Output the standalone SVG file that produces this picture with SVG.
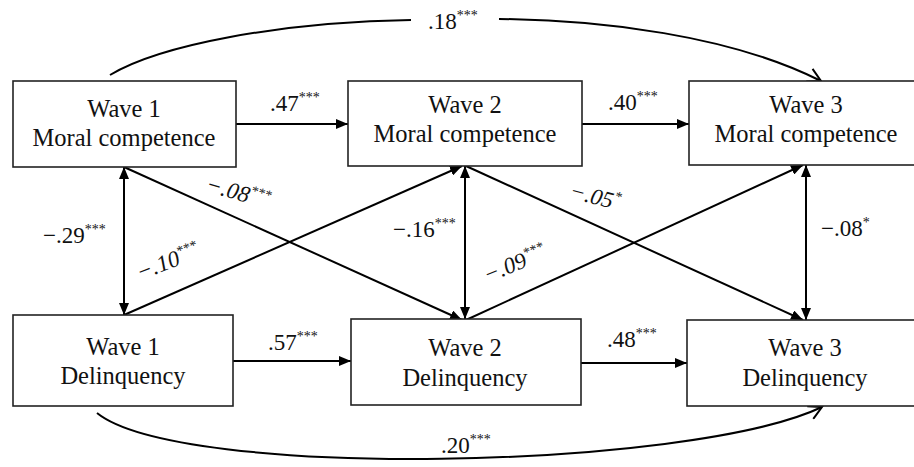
<svg xmlns="http://www.w3.org/2000/svg" width="914" height="467" viewBox="0 0 914 467">
<style>
.box{fill:#fff;stroke:#222;stroke-width:1.6}
.ln{fill:none;stroke:#000;stroke-width:2}
</style>
<defs>
<marker id="ah" markerUnits="userSpaceOnUse" markerWidth="12" markerHeight="10" refX="12" refY="5" orient="auto-start-reverse" viewBox="0 0 12 10">
<path d="M0,0 L12,5 L0,10 z" fill="#000"/>
</marker>
<marker id="oh" markerUnits="userSpaceOnUse" markerWidth="16" markerHeight="16" refX="14" refY="8" orient="auto" viewBox="0 0 16 16">
<path d="M1,1 L14,8 L1,15" fill="none" stroke="#000" stroke-width="2"/>
</marker>
</defs>

<g id="connectors">
<line class="ln" x1="236" y1="124" x2="348" y2="124" marker-end="url(#ah)"/>
<line class="ln" x1="582" y1="124" x2="689" y2="124" marker-end="url(#ah)"/>
<line class="ln" x1="233" y1="361" x2="351" y2="361" marker-end="url(#ah)"/>
<line class="ln" x1="581" y1="363" x2="687" y2="363" marker-end="url(#ah)"/>
<line class="ln" x1="124" y1="167" x2="124" y2="315" marker-start="url(#ah)" marker-end="url(#ah)"/>
<line class="ln" x1="465" y1="166" x2="465" y2="319" marker-start="url(#ah)" marker-end="url(#ah)"/>
<line class="ln" x1="806" y1="165" x2="806" y2="320" marker-start="url(#ah)" marker-end="url(#ah)"/>
<line class="ln" x1="124" y1="167" x2="462" y2="320" marker-end="url(#ah)"/>
<line class="ln" x1="124" y1="315" x2="462" y2="166" marker-end="url(#ah)"/>
<line class="ln" x1="466" y1="166" x2="803" y2="320" marker-end="url(#ah)"/>
<line class="ln" x1="466" y1="320" x2="803" y2="165" marker-end="url(#ah)"/>
<path class="ln" d="M110,75 C160,45 280,22 411,20"/>
<path class="ln" d="M499,19 C600,20 730,35 821,81" marker-end="url(#oh)"/>
<path class="ln" d="M97,413 C180,480 690,470 822,407" marker-end="url(#oh)"/>

<g style="font-family:'Liberation Serif',serif" font-size="23" fill="#111">
<text x="428" y="29">.18<tspan font-size="14" dy="-9">***</tspan></text>
<text x="270" y="111">.47<tspan font-size="14" dy="-9">***</tspan></text>
<text x="608" y="110">.40<tspan font-size="14" dy="-9">***</tspan></text>
<text x="268" y="350">.57<tspan font-size="14" dy="-9">***</tspan></text>
<text x="607" y="347">.48<tspan font-size="14" dy="-9">***</tspan></text>
<text x="441" y="453">.20<tspan font-size="14" dy="-9">***</tspan></text>
<text x="43" y="243">−.29<tspan font-size="14" dy="-9">***</tspan></text>
<text x="393" y="237">−.16<tspan font-size="14" dy="-9">***</tspan></text>
<text x="821" y="236">−.08<tspan font-size="14" dy="-9">*</tspan></text>
<g font-style="italic" text-anchor="middle">
<text transform="translate(238,193) rotate(16)" x="0" y="7">−.08<tspan font-size="14" dy="-9">***</tspan></text>
<text transform="translate(168,262) rotate(-21)" x="0" y="7">−.10<tspan font-size="14" dy="-9">***</tspan></text>
<text transform="translate(595,197) rotate(15)" x="0" y="7">−.05<tspan font-size="14" dy="-9">*</tspan></text>
<text transform="translate(515,264) rotate(-22)" x="0" y="7">−.09<tspan font-size="14" dy="-9">***</tspan></text>
</g>
</g>
</g>

<g style="font-family:'Liberation Serif',serif" font-size="24.5" fill="#111" text-anchor="middle">
<g id="w1mc">
<rect class="box" x="13" y="81" width="223" height="86"/>
<text x="124" y="117">Wave 1</text>
<text x="124" y="146">Moral competence</text>
</g>
<g id="w2mc">
<rect class="box" x="348" y="81" width="234" height="85"/>
<text x="465" y="113">Wave 2</text>
<text x="465" y="142">Moral competence</text>
</g>
<g id="w3mc">
<rect class="box" x="689" y="81" width="240" height="84"/>
<text x="806" y="113">Wave 3</text>
<text x="806" y="142">Moral competence</text>
</g>
<g id="w1del">
<rect class="box" x="13" y="315" width="220" height="91"/>
<text x="123" y="355">Wave 1</text>
<text x="123" y="384">Delinquency</text>
</g>
<g id="w2del">
<rect class="box" x="351" y="319" width="230" height="86"/>
<text x="465" y="356">Wave 2</text>
<text x="465" y="386">Delinquency</text>
</g>
<g id="w3del">
<rect class="box" x="687" y="320" width="240" height="86"/>
<text x="805" y="356">Wave 3</text>
<text x="805" y="386">Delinquency</text>
</g>
</g>
</svg>
